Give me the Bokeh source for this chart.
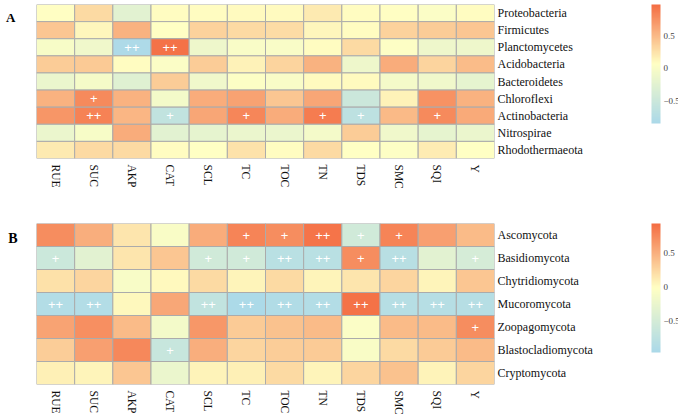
import numpy as np
from bokeh.plotting import figure
from bokeh.models import (ColumnDataSource, LinearColorMapper, ColorBar, FixedTicker,
                          CategoricalAxis, FactorRange, CustomJSTickFormatter)
from bokeh.layouts import column
from bokeh.transform import transform
from bokeh.core.properties import value
from bokeh.embed import file_html
from bokeh.resources import INLINE

# Soil / yield variables on the x axis
soil_vars = ["RUE", "SUC", "AKP", "CAT", "SCL", "TC", "TOC", "TN", "TDS", "SMC", "SQI", "Y"]

# Panel A: bacterial phyla vs. soil variables (correlation coefficients)
bact_phyla = ["Proteobacteria", "Firmicutes", "Planctomycetes", "Acidobacteria", "Bacteroidetes",
              "Chloroflexi", "Actinobacteria", "Nitrospirae", "Rhodothermaeota"]
bact_r = [
    [0.07, 0.30, -0.25, 0.08, 0.08, 0.10, 0.10, 0.20, 0.08, 0.07, 0.02, 0.08],
    [0.42, 0.12, 0.55, 0.06, 0.35, 0.30, 0.28, 0.12, 0.08, 0.35, 0.38, 0.42],
    [-0.02, -0.10, -0.82, 0.95, -0.12, 0.00, 0.00, 0.08, 0.30, 0.05, -0.12, -0.12],
    [0.38, 0.40, 0.08, 0.02, 0.38, 0.15, 0.33, 0.55, -0.12, 0.58, 0.33, 0.48],
    [-0.15, -0.04, -0.28, 0.38, -0.10, 0.03, 0.00, 0.10, 0.10, -0.05, -0.10, -0.20],
    [0.55, 0.80, 0.55, -0.06, 0.58, 0.65, 0.42, 0.62, -0.50, 0.15, 0.75, 0.55],
    [0.72, 0.85, 0.52, -0.60, 0.62, 0.82, 0.58, 0.88, -0.65, 0.50, 0.80, 0.60],
    [-0.15, -0.02, 0.58, -0.25, -0.20, -0.15, -0.15, -0.05, 0.38, -0.10, -0.20, -0.15],
    [0.20, 0.30, 0.30, 0.08, 0.06, 0.25, 0.08, 0.30, 0.06, 0.05, 0.18, 0.06],
]
bact_sig = [
    ["", "", "", "", "", "", "", "", "", "", "", ""],
    ["", "", "", "", "", "", "", "", "", "", "", ""],
    ["", "", "++", "++", "", "", "", "", "", "", "", ""],
    ["", "", "", "", "", "", "", "", "", "", "", ""],
    ["", "", "", "", "", "", "", "", "", "", "", ""],
    ["", "+", "", "", "", "", "", "", "", "", "", ""],
    ["", "++", "", "+", "", "+", "", "+", "+", "", "+", ""],
    ["", "", "", "", "", "", "", "", "", "", "", ""],
    ["", "", "", "", "", "", "", "", "", "", "", ""],
]
bact_range = (-0.85, 0.98)

# Panel B: fungal phyla vs. soil variables
fung_phyla = ["Ascomycota", "Basidiomycota", "Chytridiomycota", "Mucoromycota",
              "Zoopagomycota", "Blastocladiomycota", "Cryptomycota"]
fung_r = [
    [0.72, 0.50, 0.15, -0.08, 0.52, 0.78, 0.72, 0.88, -0.55, 0.78, 0.60, 0.42],
    [-0.60, -0.35, 0.15, 0.35, -0.55, -0.55, -0.80, -0.80, 0.72, -0.82, -0.35, -0.50],
    [0.18, 0.25, -0.10, 0.02, 0.22, 0.05, 0.22, 0.05, 0.15, 0.25, 0.05, 0.35],
    [-0.88, -0.88, 0.03, 0.55, -0.72, -0.95, -0.90, -0.88, 0.90, -0.85, -0.85, -0.85],
    [0.58, 0.70, 0.42, -0.15, 0.65, 0.32, 0.38, 0.42, -0.06, 0.42, 0.42, 0.72],
    [0.30, 0.60, 0.75, -0.65, 0.50, 0.25, 0.30, 0.32, -0.08, 0.22, 0.32, 0.42],
    [0.08, 0.05, 0.35, -0.25, 0.06, 0.08, 0.22, 0.05, 0.25, 0.38, 0.06, 0.25],
]
fung_sig = [
    ["", "", "", "", "", "+", "+", "++", "+", "+", "", ""],
    ["+", "", "", "", "+", "+", "++", "++", "+", "++", "", "+"],
    ["", "", "", "", "", "", "", "", "", "", "", ""],
    ["++", "++", "", "", "++", "++", "++", "++", "++", "++", "++", "++"],
    ["", "", "", "", "", "", "", "", "", "", "", "+"],
    ["", "", "", "+", "", "", "", "", "", "", "", ""],
    ["", "", "", "", "", "", "", "", "", "", "", ""],
]
fung_range = (-0.97, 0.93)
colorbar_ticks = [-0.5, 0, 0.5]

FONT = "Liberation Serif"


def ramp(stops, n=256):
    """Linear RGB ramp through the given hex colours."""
    rgb = np.array([[int(c[i:i + 2], 16) for i in (1, 3, 5)] for c in stops], dtype=float)
    pos = np.linspace(0, 1, len(stops))
    out = []
    for ti in np.linspace(0, 1, n):
        r = [np.interp(ti, pos, rgb[:, k]) for k in range(3)]
        out.append("#%02x%02x%02x" % tuple(int(round(v)) for v in r))
    return out


PALETTE = ramp(["#abd9e9", "#ffffc4", "#f46d43"])


def heatmap(rows, r, sig, rng, height, top, bottom, tag, tag_slot, tag_size, tag_gap, bar_y, bar_h):
    xs, ys, vals, marks = [], [], [], []
    for i, row in enumerate(rows):
        for j, var in enumerate(soil_vars):
            xs.append(var)
            ys.append(row)
            vals.append(r[i][j])
            marks.append(sig[i][j])
    src = ColumnDataSource(dict(x=xs, y=ys, v=vals, m=marks))
    mapper = LinearColorMapper(palette=PALETTE, low=rng[0], high=rng[1])

    p = figure(width=678, height=height, x_range=soil_vars, y_range=list(reversed(rows)),
               output_backend="svg", toolbar_location=None, y_axis_location="right",
               min_border_left=36, min_border_right=184, min_border_top=top,
               min_border_bottom=bottom)
    p.outline_line_color = None
    p.grid.visible = False

    p.rect(x="x", y="y", width=1, height=1, source=src,
           fill_color=transform("v", mapper), line_color="#ababab", line_width=1)
    p.text(x="x", y="y", text="m", source=src, text_color="white",
           text_align="center", text_baseline="middle", text_font_size="13px",
           text_font=value("Liberation Sans"))

    for ax in (p.xaxis[0], p.yaxis[0]):
        ax.axis_line_color = None
        ax.major_tick_line_color = None
        ax.minor_tick_line_color = None
        ax.major_tick_out = 0
        ax.major_tick_in = 0
        ax.major_label_text_font = FONT
        ax.major_label_text_color = "#111111"
    p.xaxis.major_label_text_font_size = "11.5px"
    p.yaxis.major_label_text_font_size = "12px"
    p.xaxis.major_label_orientation = "vertical"
    p.xaxis.major_label_standoff = 6
    p.yaxis.major_label_standoff = 3

    # panel letter: a fine-grained categorical axis on the left with one labelled slot
    slots = [str(k) for k in range(100)]
    p.extra_y_ranges = {"tag": FactorRange(factors=slots)}
    tag_axis = CategoricalAxis(y_range_name="tag",
                               formatter=CustomJSTickFormatter(
                                   code="return tick == '%d' ? '%s' : '';" % (tag_slot, tag)),
                               axis_line_color=None, major_tick_line_color=None,
                               minor_tick_line_color=None, major_tick_out=0, major_tick_in=0,
                               major_label_standoff=tag_gap, major_label_text_font=FONT,
                               major_label_text_font_style="bold",
                               major_label_text_font_size=tag_size,
                               major_label_text_color="black")
    p.add_layout(tag_axis, "left")

    cb = ColorBar(color_mapper=mapper, location=(615, bar_y), width=9, height=bar_h,
                  padding=0, margin=0, ticker=FixedTicker(ticks=colorbar_ticks),
                  major_tick_line_color=None, bar_line_color=None,
                  border_line_color=None, background_fill_alpha=0,
                  major_label_text_font=FONT, major_label_text_font_size="9px",
                  major_label_text_color="#444444", label_standoff=3,
                  major_label_overrides={-0.5: "\u22120.5"})
    p.add_layout(cb, "center")
    return p


pA = heatmap(bact_phyla, bact_r, bact_sig, bact_range, 205, 4, 47,
             "A", 91, "13px", 21, 35, 119)
pB = heatmap(fung_phyla, fung_r, fung_sig, fung_range, 212, 18, 33,
             "B", 90, "14px", 19, 32, 129)

layout = column(pA, pB, spacing=0)
open("out.html", "w").write(file_html(layout, INLINE))
